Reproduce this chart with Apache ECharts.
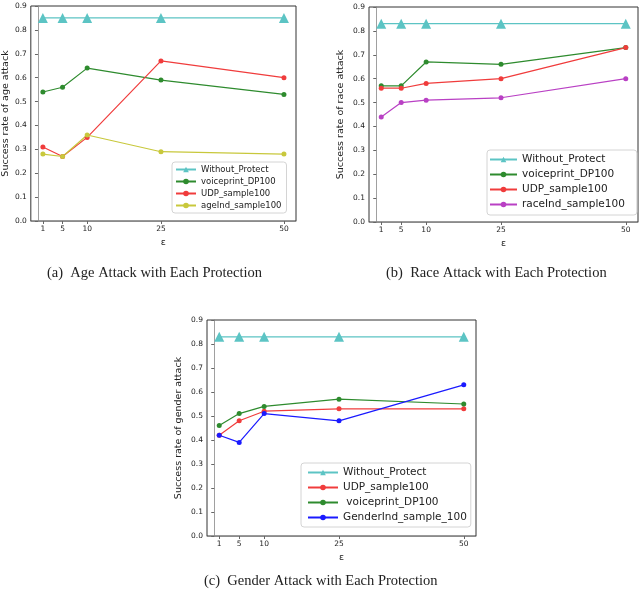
<!DOCTYPE html>
<html><head><meta charset="utf-8">
<script src="https://cdn.jsdelivr.net/npm/echarts@6/dist/echarts.min.js"></script>
<style>html,body{margin:0;padding:0;background:#fff}#c{width:640px;height:594px}</style>
</head><body><div id="c"></div>
<script>
const eps = [1, 5, 10, 25, 50];
const yTicks = [0, 0.1, 0.2, 0.3, 0.4, 0.5, 0.6, 0.7, 0.8, 0.9];

// (a) Age
const ageWithout = [0.85, 0.85, 0.85, 0.85, 0.85];
const ageVoice = [0.54, 0.56, 0.64, 0.59, 0.53];
const ageUDP = [0.31, 0.27, 0.35, 0.67, 0.60];
const ageInd = [0.28, 0.27, 0.36, 0.29, 0.28];
// (b) Race
const raceWithout = [0.83, 0.83, 0.83, 0.83, 0.83];
const raceVoice = [0.57, 0.57, 0.67, 0.66, 0.73];
const raceUDP = [0.56, 0.56, 0.58, 0.60, 0.73];
const raceInd = [0.44, 0.50, 0.51, 0.52, 0.60];
// (c) Gender
const genWithout = [0.83, 0.83, 0.83, 0.83, 0.83];
const genUDP = [0.42, 0.48, 0.52, 0.53, 0.53];
const genVoice = [0.46, 0.51, 0.54, 0.57, 0.55];
const genInd = [0.42, 0.39, 0.51, 0.48, 0.63];

const C_CYAN = '#5cc4c4', C_GREEN = '#2e8b2e', C_RED = '#f03c3c', C_YEL = '#c8c83c', C_MAG = '#b940c4', C_BLUE = '#1a1aff';

const grids = [
  {left: 27, top: 6, width: 269, height: 215},
  {left: 369, top: 7, width: 269, height: 215},
  {left: 207, top: 320, width: 269, height: 216}
];
const yNames = ['Success rate of age attack', 'Success rate of race attack', 'Success rate of gender attack'];

function pairs(v) { return eps.map((e, i) => [e, v[i]]); }

function mk(name, vals, color, gi, tri) {
  return {
    name, type: 'line', xAxisIndex: gi, yAxisIndex: gi, data: pairs(vals),
    symbol: tri ? 'triangle' : 'circle', symbolSize: tri ? 10 : 5,
    lineStyle: {color, width: 1.2}, itemStyle: {color, borderWidth: 0},
    emphasis: {disabled: true}, animation: false
  };
}

const xAxes = grids.map((g, i) => ({
  type: 'value', gridIndex: i, min: -1.45, max: 52.45,
  name: 'ε', nameLocation: 'middle', nameGap: 17,
  nameTextStyle: {fontFamily: 'DejaVu Sans', fontSize: 9.5, color: '#222'},
  axisLine: {lineStyle: {color: '#888', width: 0.8}},
  axisTick: {customValues: eps, length: 3, lineStyle: {color: '#666'}},
  axisLabel: {customValues: eps, fontFamily: 'DejaVu Sans', fontSize: 7.5, color: '#222', margin: 4},
  splitLine: {show: false}
}));
const yAxes = grids.map((g, i) => ({
  type: 'value', gridIndex: i, min: 0, max: 0.9, interval: 0.1,
  name: yNames[i], nameLocation: 'middle', nameGap: i === 0 ? 19 : 23,
  nameTextStyle: {fontFamily: 'DejaVu Sans', fontSize: 9.5, color: '#222'},
  axisLine: {show: true, lineStyle: {color: '#888', width: 0.8}},
  axisTick: {show: true, length: 3, lineStyle: {color: '#666'}},
  axisLabel: {fontFamily: 'DejaVu Sans', fontSize: 7.5, color: '#222', margin: 4,
    formatter: v => yTicks.includes(Math.round(v * 10) / 10) ? v.toFixed(1) : ''},
  splitLine: {show: false}
}));

const legendBase = {
  orient: 'vertical', backgroundColor: '#fff', borderColor: '#d4d4d4', borderWidth: 1, borderRadius: 3,
  itemHeight: 7, selectedMode: false
};

const option = {
  animation: false,
  grid: grids.map(g => Object.assign({show: true, borderColor: '#333', borderWidth: 1, backgroundColor: 'transparent'}, g)),
  xAxis: xAxes, yAxis: yAxes,
  legend: [
    Object.assign({}, legendBase, {left: 172, top: 162, itemGap: 3, itemWidth: 20, padding: [3, 5, 3, 3],
      textStyle: {fontFamily: 'DejaVu Sans', fontSize: 8.5, color: '#222'},
      data: ['Without_Protect', 'voiceprint_DP100', 'UDP_sample100', 'ageInd_sample100']}),
    Object.assign({}, legendBase, {left: 487, top: 150, itemGap: 4, itemWidth: 27, padding: [4, 12, 5, 2],
      textStyle: {fontFamily: 'DejaVu Sans', fontSize: 10.5, color: '#222'},
      data: ['Without_Protect ', 'voiceprint_DP100 ', 'UDP_sample100 ', 'raceInd_sample100']}),
    Object.assign({}, legendBase, {left: 301, top: 463, itemGap: 4, itemWidth: 30, padding: [4, 4, 4, 6],
      textStyle: {fontFamily: 'DejaVu Sans', fontSize: 10.5, color: '#222'},
      data: ['Without_Protect  ', 'UDP_sample100  ', ' voiceprint_DP100', 'GenderInd_sample_100']})
  ],
  series: [
    mk('Without_Protect', ageWithout, C_CYAN, 0, true),
    mk('voiceprint_DP100', ageVoice, C_GREEN, 0),
    mk('UDP_sample100', ageUDP, C_RED, 0),
    mk('ageInd_sample100', ageInd, C_YEL, 0),
    mk('Without_Protect ', raceWithout, C_CYAN, 1, true),
    mk('voiceprint_DP100 ', raceVoice, C_GREEN, 1),
    mk('UDP_sample100 ', raceUDP, C_RED, 1),
    mk('raceInd_sample100', raceInd, C_MAG, 1),
    mk('Without_Protect  ', genWithout, C_CYAN, 2, true),
    mk('UDP_sample100  ', genUDP, C_RED, 2),
    mk(' voiceprint_DP100', genVoice, C_GREEN, 2),
    mk('GenderInd_sample_100', genInd, C_BLUE, 2)
  ],
  graphic: [
    {type: 'text', left: 47, top: 266, style: {text: '(a)  Age Attack with Each Protection', font: '14.5px "Liberation Serif"', fill: '#222'}},
    {type: 'text', left: 386, top: 266, style: {text: '(b)  Race Attack with Each Protection', font: '14.5px "Liberation Serif"', fill: '#222'}},
    {type: 'text', left: 204, top: 574, style: {text: '(c)  Gender Attack with Each Protection', font: '14.5px "Liberation Serif"', fill: '#222'}}
  ]
};
const chart = echarts.init(document.getElementById('c'));
chart.setOption(option);
</script></body></html>
